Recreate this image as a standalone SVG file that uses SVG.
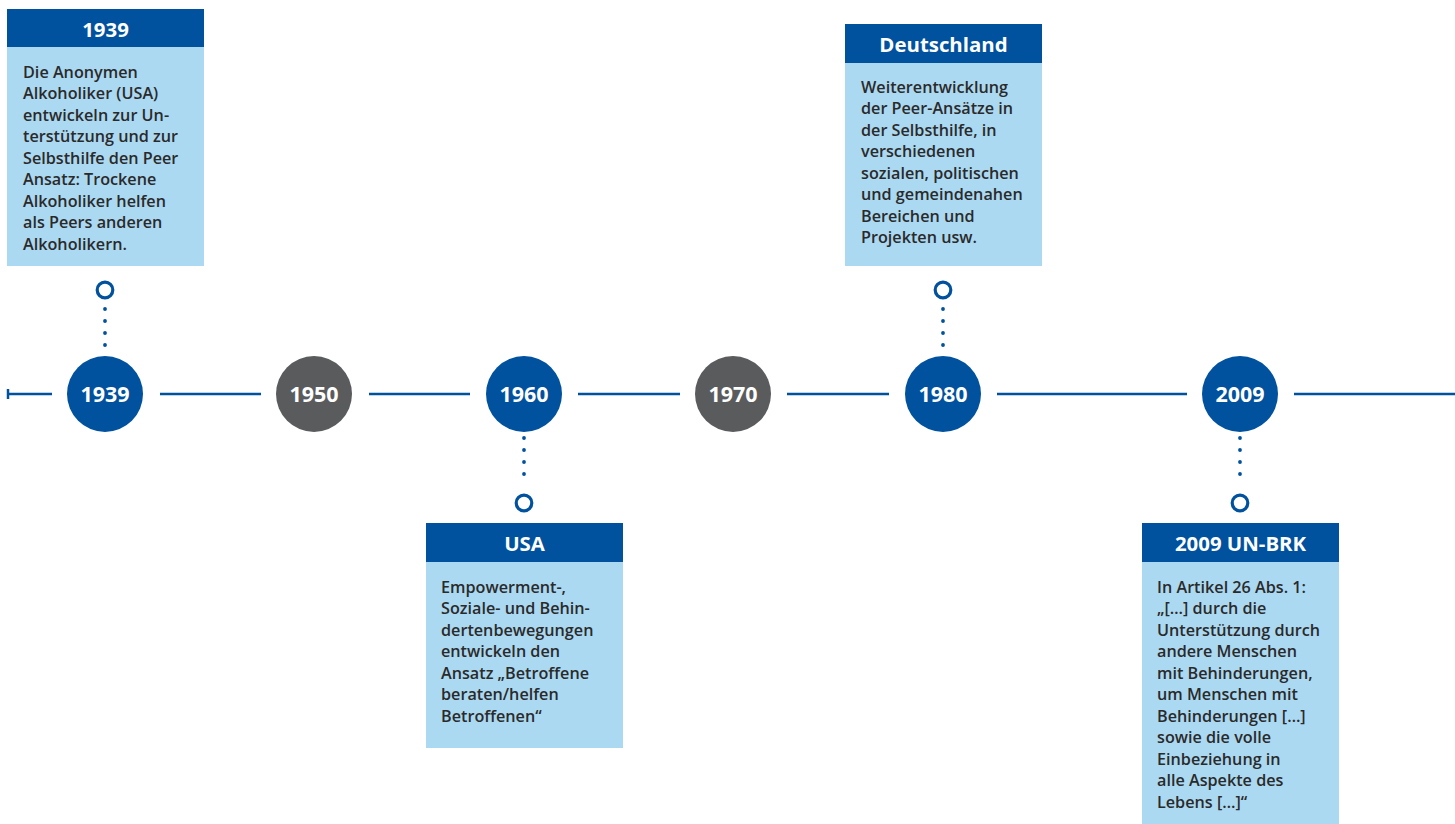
<svg xmlns="http://www.w3.org/2000/svg" width="1455" height="824" viewBox="0 0 1455 824">
<style>
.hdr{fill:#00519e}
.body{fill:#acd9f2}
.ht{font-family:"Open Sans","Liberation Sans",sans-serif;font-weight:700;font-size:20.4px;fill:#fff;text-anchor:middle}
.bt{font-family:"Open Sans","Liberation Sans",sans-serif;font-weight:600;font-size:16.2px;fill:#2a2a2a}
.yr{font-family:"Open Sans","Liberation Sans",sans-serif;font-weight:700;font-size:21.5px;fill:#fff;text-anchor:middle}
.blue{fill:#00519e}
.gray{fill:#5a5b5d}
.pin{fill:#fff;stroke:#00519e;stroke-width:3.2}
.axis{stroke:#00519e;stroke-width:2.5;fill:none}
.dots{stroke:#00519e;stroke-width:3.8;stroke-linecap:round;stroke-dasharray:0 12;fill:none}
</style>
<g id="connectors">
<path class="axis" d="M8 394H52M160 394H261M369 394H470M578 394H680M787 394H889M997 394H1187M1294 394H1455"/>
<path class="axis" d="M8 389V399"/>
<path class="dots" d="M105 309V346M943 309V346M524 438V485M1240 438V485"/>
<circle class="pin" cx="105" cy="290" r="7.8"/>
<circle class="pin" cx="943" cy="290" r="7.8"/>
<circle class="pin" cx="524" cy="503" r="7.8"/>
<circle class="pin" cx="1240" cy="503" r="7.8"/>
</g>
<g id="y1939"><circle class="blue" cx="105" cy="394" r="38"/><text class="yr" x="105" y="402">1939</text></g>
<g id="y1950"><circle class="gray" cx="314" cy="394" r="38"/><text class="yr" x="314" y="402">1950</text></g>
<g id="y1960"><circle class="blue" cx="524" cy="394" r="38"/><text class="yr" x="524" y="402">1960</text></g>
<g id="y1970"><circle class="gray" cx="733" cy="394" r="38"/><text class="yr" x="733" y="402">1970</text></g>
<g id="y1980"><circle class="blue" cx="943" cy="394" r="38"/><text class="yr" x="943" y="402">1980</text></g>
<g id="y2009"><circle class="blue" cx="1240" cy="394" r="38"/><text class="yr" x="1240" y="402">2009</text></g>
<g id="box1939">
<rect class="body" x="7" y="9" width="197" height="257"/>
<rect class="hdr" x="7" y="9" width="197" height="38"/>
<text class="ht" x="105.5" y="36.5">1939</text>
<text class="bt">
<tspan x="23" y="77.5">Die Anonymen</tspan>
<tspan x="23" y="99">Alkoholiker (USA)</tspan>
<tspan x="23" y="120.5">entwickeln zur Un-</tspan>
<tspan x="23" y="142">terstützung und zur</tspan>
<tspan x="23" y="163.5">Selbsthilfe den Peer</tspan>
<tspan x="23" y="185">Ansatz: Trockene</tspan>
<tspan x="23" y="206.5">Alkoholiker helfen</tspan>
<tspan x="23" y="228">als Peers anderen</tspan>
<tspan x="23" y="249.5">Alkoholikern.</tspan>
</text>
</g>
<g id="boxUSA">
<rect class="body" x="426" y="523" width="197" height="225"/>
<rect class="hdr" x="426" y="523" width="197" height="39"/>
<text class="ht" x="524.5" y="550.5">USA</text>
<text class="bt">
<tspan x="441" y="592.5">Empowerment-,</tspan>
<tspan x="441" y="614">Soziale- und Behin-</tspan>
<tspan x="441" y="635.5">dertenbewegungen</tspan>
<tspan x="441" y="657">entwickeln den</tspan>
<tspan x="441" y="678.5">Ansatz „Betroffene</tspan>
<tspan x="441" y="700">beraten/helfen</tspan>
<tspan x="441" y="721.5">Betroffenen“</tspan>
</text>
</g>
<g id="boxDeutschland">
<rect class="body" x="845" y="24" width="197" height="242"/>
<rect class="hdr" x="845" y="24" width="197" height="39"/>
<text class="ht" x="943.5" y="51.5">Deutschland</text>
<text class="bt">
<tspan x="861" y="92.5">Weiterentwicklung</tspan>
<tspan x="861" y="114">der Peer-Ansätze in</tspan>
<tspan x="861" y="135.5">der Selbsthilfe, in</tspan>
<tspan x="861" y="157">verschiedenen</tspan>
<tspan x="861" y="178.5">sozialen, politischen</tspan>
<tspan x="861" y="200">und gemeindenahen</tspan>
<tspan x="861" y="221.5">Bereichen und</tspan>
<tspan x="861" y="243">Projekten usw.</tspan>
</text>
</g>
<g id="box2009">
<rect class="body" x="1142" y="523" width="197" height="301"/>
<rect class="hdr" x="1142" y="523" width="197" height="39"/>
<text class="ht" x="1240.5" y="550.5">2009 UN-BRK</text>
<text class="bt">
<tspan x="1157" y="592.5">In Artikel 26 Abs. 1:</tspan>
<tspan x="1157" y="614">„[…] durch die</tspan>
<tspan x="1157" y="635.5">Unterstützung durch</tspan>
<tspan x="1157" y="657">andere Menschen</tspan>
<tspan x="1157" y="678.5">mit Behinderungen,</tspan>
<tspan x="1157" y="700">um Menschen mit</tspan>
<tspan x="1157" y="721.5">Behinderungen […]</tspan>
<tspan x="1157" y="743">sowie die volle</tspan>
<tspan x="1157" y="764.5">Einbeziehung in</tspan>
<tspan x="1157" y="786">alle Aspekte des</tspan>
<tspan x="1157" y="807.5">Lebens […]“</tspan>
</text>
</g>
</svg>
